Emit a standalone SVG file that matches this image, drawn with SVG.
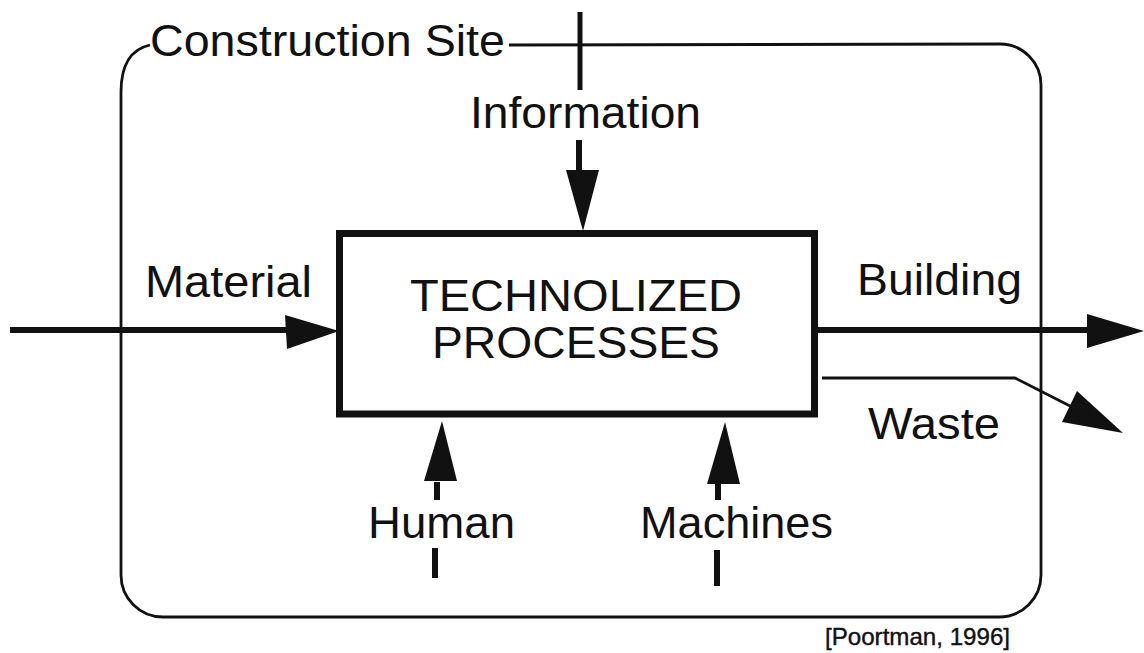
<svg xmlns="http://www.w3.org/2000/svg" width="1144" height="653" viewBox="0 0 1144 653">
  <style>
    .lbl { font-family: "Liberation Sans", Arial, sans-serif; font-size: 44px; fill: #111; }
    .cite { font-family: "Liberation Sans", Arial, sans-serif; font-size: 24px; fill: #111; stroke: #111; stroke-width: 0.4; }
    .thin { fill: none; stroke: #111; stroke-width: 2.8; stroke-linejoin: round; }
    .stem { fill: none; stroke: #111; stroke-width: 6; }
    .head { fill: #111; stroke: none; }
  </style>
  <rect x="0" y="0" width="1144" height="653" fill="#fff"/>

  <!-- site boundary with its label set into the top edge -->
  <g id="site">
    <path class="thin" d="M 509 45 L 1000 44 A 41 41 0 0 1 1041 85 L 1041 575 A 42 42 0 0 1 999 617 L 163 617 A 42 42 0 0 1 121 575 L 121 92 C 121 64 132 49 150 45"/>
    <text class="lbl" x="150" y="56" textLength="355" lengthAdjust="spacingAndGlyphs">Construction Site</text>
  </g>

  <!-- central process block -->
  <g id="process">
    <rect x="339.5" y="233.5" width="475" height="180.5" fill="none" stroke="#111" stroke-width="7"/>
    <text class="lbl" x="576" y="311" text-anchor="middle" textLength="332" lengthAdjust="spacingAndGlyphs">TECHNOLIZED</text>
    <text class="lbl" x="576" y="358" text-anchor="middle" textLength="288" lengthAdjust="spacingAndGlyphs">PROCESSES</text>
  </g>

  <g id="information">
    <text class="lbl" x="470" y="128" textLength="231" lengthAdjust="spacingAndGlyphs">Information</text>
  </g>
  <g id="material">
    <text class="lbl" x="145" y="297" textLength="167" lengthAdjust="spacingAndGlyphs">Material</text>
  </g>
  <g id="building">
    <text class="lbl" x="857" y="295" textLength="165" lengthAdjust="spacingAndGlyphs">Building</text>
  </g>
  <g id="waste">
    <text class="lbl" x="868" y="439" textLength="132" lengthAdjust="spacingAndGlyphs">Waste</text>
  </g>
  <g id="human">
    <text class="lbl" x="368" y="538" textLength="147" lengthAdjust="spacingAndGlyphs">Human</text>
  </g>
  <g id="machines">
    <text class="lbl" x="640" y="538" textLength="193" lengthAdjust="spacingAndGlyphs">Machines</text>
  </g>
  <g id="source">
    <text class="cite" x="825" y="645" textLength="185" lengthAdjust="spacingAndGlyphs">[Poortman, 1996]</text>
  </g>

  <g id="connectors">
    <!-- Information: enters from above, crossing the boundary -->
    <line class="stem" x1="580" y1="12" x2="580" y2="90" style="stroke-width:5"/>
    <line class="stem" x1="579" y1="140" x2="579" y2="172"/>
    <polygon class="head" points="566,170 599,170 583,231"/>

    <!-- Material in -->
    <line class="stem" x1="10" y1="330" x2="300" y2="330"/>
    <polygon class="head" points="285,315 339,331 287,349"/>

    <!-- Building out -->
    <line class="stem" x1="814" y1="330" x2="1092" y2="330"/>
    <polygon class="head" points="1087,314 1144,331 1087,348"/>

    <!-- Waste out -->
    <path class="thin" d="M 822 378 L 1015 378 L 1072 407"/>
    <polygon class="head" points="1062,422 1077,391 1123,433"/>

    <!-- Human up -->
    <line class="stem" x1="437" y1="482" x2="437" y2="500"/>
    <line class="stem" x1="435" y1="548" x2="435" y2="578"/>
    <polygon class="head" points="424,481 457,481 442,421"/>

    <!-- Machines up -->
    <line class="stem" x1="718" y1="484" x2="718" y2="500"/>
    <line class="stem" x1="717" y1="550" x2="717" y2="586"/>
    <polygon class="head" points="707,484 740,484 725,422"/>
  </g>
</svg>
